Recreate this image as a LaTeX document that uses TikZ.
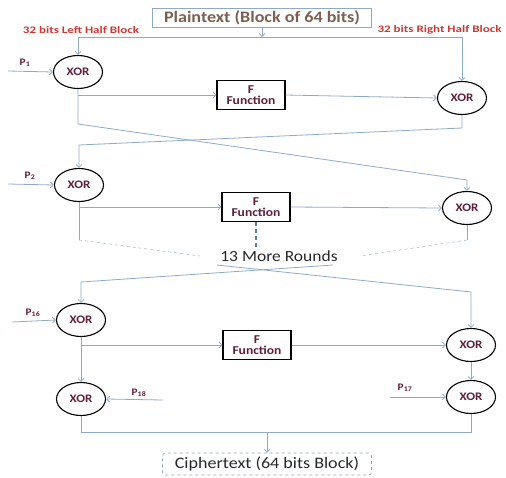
\documentclass[tikz,border=0pt]{standalone}
\usepackage{fontspec}
\setmainfont{Carlito}
\newfontfamily\widefont[FakeStretch=1.13]{Carlito}
\newfontfamily\halffont[FakeStretch=1.3]{Carlito}
\usepackage{tikz}
\usetikzlibrary{shapes.geometric,arrows.meta}
\definecolor{lnblue}{RGB}{143,170,200}
\definecolor{xortext}{RGB}{95,30,60}
\definecolor{halfred}{RGB}{205,55,50}
\definecolor{plaintxt}{RGB}{125,95,80}
\definecolor{roundtxt}{RGB}{40,40,40}
\definecolor{dashblue}{RGB}{85,125,170}

\begin{document}
\begin{tikzpicture}[x=1pt,y=-1pt,
            xorb/.style={shape=ellipse, draw=black, line width=1.1pt, fill=white, minimum width=49pt, minimum height=33pt, inner sep=0pt, font=\widefont\bfseries\fontsize{11.5}{12}\selectfont, text=xortext},
            fbox/.style={shape=rectangle, draw=black, line width=1.1pt, fill=white, minimum width=68pt, minimum height=29pt, inner sep=0pt, align=center, font=\widefont\bfseries\fontsize{12}{11.5}\selectfont, text=xortext},
            pin/.style={font=\widefont\bfseries\fontsize{10}{11}\selectfont, text=xortext},
            half/.style={font=\halffont\bfseries\fontsize{10}{11}\selectfont, text=halfred},
            conn/.style={draw=lnblue, line width=0.8pt, -{Straight Barb[length=3pt,width=6pt]}},
            wire/.style={draw=lnblue, line width=0.8pt}]
        \useasboundingbox (0,0) rectangle (506,477);

        % input block and the two halves
        \node[draw=lnblue, line width=0.8pt, minimum width=219pt, minimum height=19pt, inner sep=0pt, text=plaintxt, font=\widefont\bfseries\fontsize{16}{16}\selectfont] (plain) at (262,18) {Plaintext (Block of 64 bits)};
        \node[half] (lhalf) at (81,30) {32 bits Left Half Block};
        \node[half, anchor=east] (rhalf) at (505,30) {32 bits Right Half Block};

        % round 1
        \node[xorb] (xa1) at (78,72) {XOR};
        \node[fbox] (f1) at (251,95) {F\\Function};
        \node[xorb] (xb1) at (462,98) {XOR};
        \node[pin] (p1) at (25,63) {P\textsubscript{1}};
        \coordinate (p1s) at (8,71);

        % round 2
        \node[xorb] (xa2) at (79,185) {XOR};
        \node[fbox] (f2) at (256,207) {F\\Function};
        \node[xorb] (xb2) at (467,208) {XOR};
        \node[pin] (p2) at (30,176) {P\textsubscript{2}};
        \coordinate (p2s) at (8,184);
        \node[text=roundtxt, font=\widefont\fontsize{15.5}{16}\selectfont] (more) at (279,256) {13 More Rounds};

        % round 16 and output whitening
        \node[xorb] (xa3) at (81,320) {XOR};
        \node[fbox] (f3) at (257,345) {F\\Function};
        \node[xorb] (xb3) at (471,345) {XOR};
        \node[xorb] (xa4) at (81,399) {XOR};
        \node[xorb] (xb4) at (471,397) {XOR};
        \node[pin] (p16) at (33,313) {P\textsubscript{16}};
        \node[pin] (p18) at (139,393) {P\textsubscript{18}};
        \node[pin] (p17) at (405,388) {P\textsubscript{17}};
        \coordinate (p16s) at (12,322);
        \coordinate (p18s) at (163,400);
        \coordinate (p17s) at (390,397);

        \node[draw=lnblue!80!gray, dashed, rounded corners=3pt, line width=0.7pt, minimum width=209pt, minimum height=22pt, inner sep=0pt, text=roundtxt, font=\widefont\fontsize{16}{17}\selectfont] (cipher) at (267,464) {Ciphertext (64 bits Block)};

        % split of the plaintext
        \draw[conn] (plain.south) -- (plain.south |- 0,37);
        \draw[wire] (xa1.north |- 0,37) -- (xb1.north |- 0,37);
        \draw[conn] (xa1.north |- 0,37) -- (xa1.north);
        \draw[conn] (xb1.north |- 0,37) -- (xb1.north);

        % round 1 wiring
        \draw[conn] (p1s) -- (xa1.west);
        \draw[conn] (xa1.south |- f1.west) -- (f1.west);
        \draw[conn] (f1.east) -- (xb1.west);
        \draw[conn] (xa1.south) -- (xa1.south |- 0,124) -- (xb2.north |- 0,180) -- (xb2.north);
        \draw[conn] (xb1.south) -- (xb1.south |- 0,128) -- (xa2.north |- 0,145) -- (xa2.north);

        % round 2 wiring
        \draw[conn] (p2s) -- (xa2.west);
        \draw[conn] (xa2.south |- f2.west) -- (f2.west);
        \draw[conn] (f2.east) -- (xb2.west);
        \draw[wire] (xa2.south) -- (xa2.south |- 0,240);
        \draw[wire] (xb2.south) -- (xb2.south |- 0,240);
        \draw[lnblue!90!gray, dashed] (xa2.south |- 0,240) -- (200,256);
        \draw[lnblue!90!gray, dashed] (xb2.south |- 0,240) -- (360,256);
        \draw[draw=dashblue, line width=1.6pt, dash pattern=on 4pt off 3pt] (f2.south) -- (256,248);

        % crossing into round 16
        \draw[conn] (217,265) -- (xb3.north |- 0,292) -- (xb3.north);
        \draw[conn] (333,265) -- (xa3.north |- 0,282) -- (xa3.north);

        % round 16 wiring
        \draw[conn] (p16s) -- (xa3.west);
        \draw[conn] (xa3.south |- f3.west) -- (f3.west);
        \draw[conn] (f3.east) -- (xb3.west);
        \draw[conn] (xa3.south) -- (xa4.north);
        \draw[conn] (xb3.south) -- (xb4.north);
        \draw[conn] (p18s) -- (xa4.east);
        \draw[conn] (p17s) -- (xb4.west);

        % output
        \draw[wire] (xa4.south) -- (xa4.south |- 0,432) -- (xb4.south |- 0,432) -- (xb4.south);
        \draw[conn] (cipher.north |- 0,432) -- (cipher.north);
    \end{tikzpicture}
\end{document}
